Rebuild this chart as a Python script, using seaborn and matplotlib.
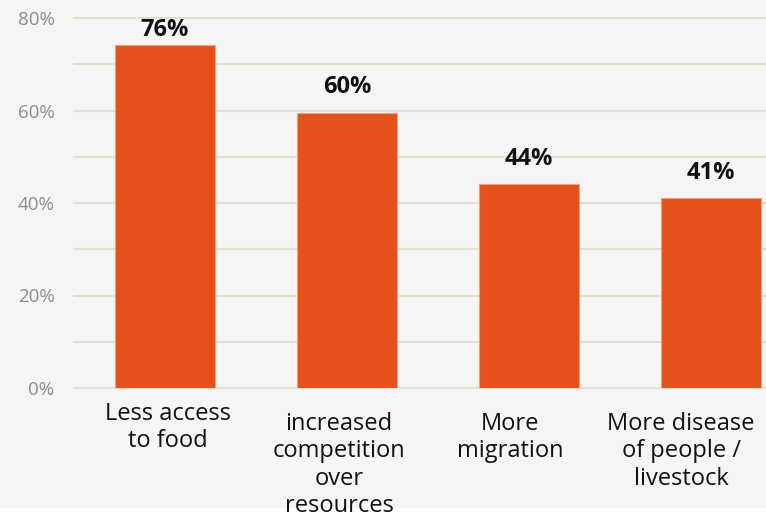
import matplotlib
matplotlib.use("Agg")
import matplotlib.pyplot as plt
import seaborn as sns
import pandas as pd
import numpy as np
from matplotlib.patches import Rectangle

categories = ["Less access\nto food",
              "increased\ncompetition\nover\nresources",
              "More\nmigration",
              "More disease\nof people /\nlivestock"]
bar_values = [74.2, 59.5, 44.1, 41.0]
value_labels = ["76%", "60%", "44%", "41%"]
y_ticks = [0, 20, 40, 60, 80]
y_tick_labels = ["0%", "20%", "40%", "60%", "80%"]

sns.set_theme(style="white")
plt.rcParams['font.family'] = ['Open Sans', 'DejaVu Sans']

BG = "#f5f5f5"
fig = plt.figure(figsize=(7.66, 5.2), dpi=100, facecolor=BG)
fig.add_artist(Rectangle((0, 0), 1, 12 / 520, transform=fig.transFigure,
                         facecolor="white", edgecolor="none", zorder=0))
ax = fig.add_axes([74 / 766, 132 / 520, 728 / 766, 370 / 520])
ax.set_facecolor(BG)

df = pd.DataFrame({"cat": categories, "val": bar_values})
sns.barplot(data=df, x="cat", y="val", color="#e5501b", width=0.55, ax=ax,
            saturation=1, edgecolor="#f1a07c", linewidth=0.8, zorder=3)

ax.set_xlim(-0.5, 3.5)
ax.set_ylim(0, 80)
ax.set_yticks(y_ticks)
ax.set_yticklabels(y_tick_labels)
ax.set_yticks(np.arange(0, 81, 10), minor=True)
ax.yaxis.grid(True, which="both", color="#e3dfca", linewidth=1.5)
ax.xaxis.grid(False)
ax.set_axisbelow(True)
for t in ax.yaxis.get_major_ticks() + ax.yaxis.get_minor_ticks():
    t.gridline.set_clip_on(False)
for s in ax.spines.values():
    s.set_visible(False)
ax.tick_params(axis="y", which="both", length=0, pad=14, labelsize=13.5,
               labelcolor="#8c8c8c")
ax.tick_params(axis="x", length=0)
ax.set_xticks(range(len(categories)))
ax.set_xticklabels([])
ax.set_xlabel("")
ax.set_ylabel("")

# label placement offsets (pixels -> points at dpi 100)
label_dx_px = [3, -8, -19, -30]
label_dy_px = [14, 24, 24, 24]
for i, cat in enumerate(categories):
    ax.annotate(cat, xy=(i, 0),
                xytext=(label_dx_px[i] * 0.72, -label_dy_px[i] * 0.72),
                textcoords="offset points",
                ha="center", va="top", fontsize=17, color="#111111",
                linespacing=1.19, annotation_clip=False, zorder=5)

for i, (v, lab) in enumerate(zip(bar_values, value_labels)):
    y = min(v + 4.2, 76.1)
    ax.text(i, y, lab, ha="center", va="baseline", fontsize=17,
            fontweight="bold", color="#111111", zorder=5)

fig.savefig("out.png", dpi=100, facecolor=BG)
